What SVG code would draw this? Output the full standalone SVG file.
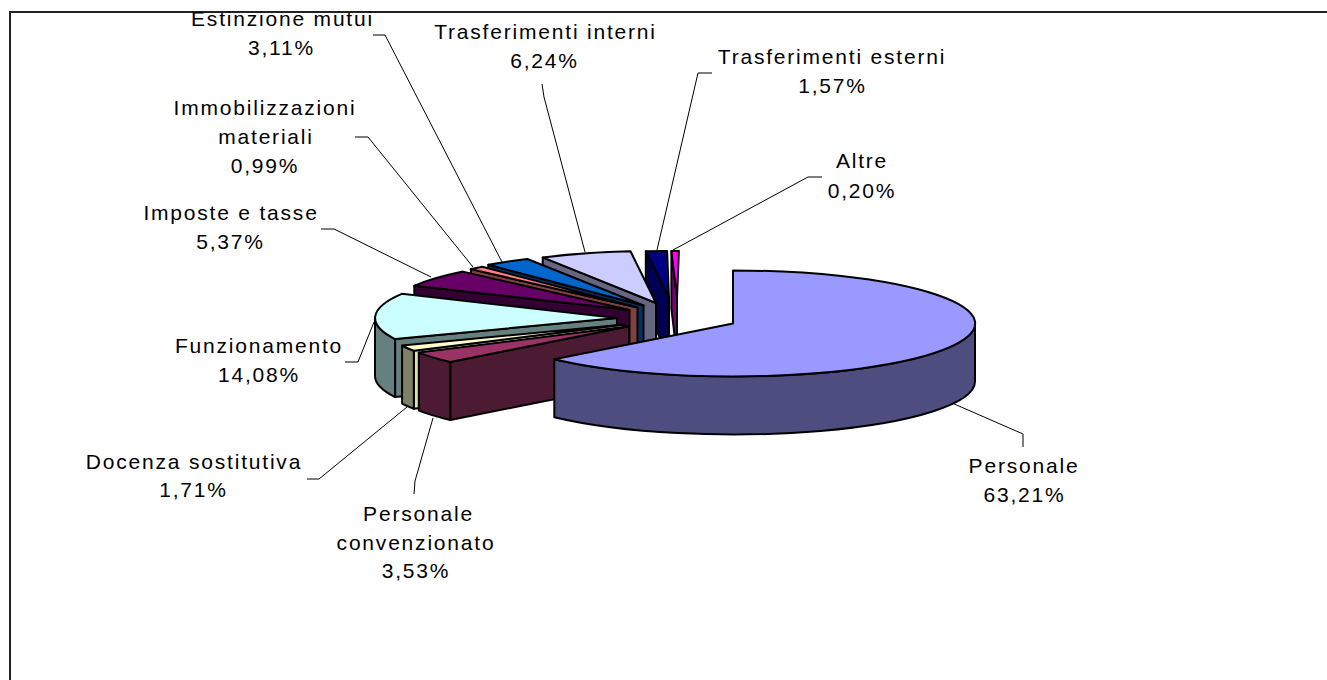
<svg xmlns="http://www.w3.org/2000/svg" width="1327" height="680" viewBox="0 0 1327 680">
<style>
.lbl{font-family:"Liberation Sans",Arial,sans-serif;font-size:21px;letter-spacing:1.8px;fill:#000;text-anchor:middle}
.f{stroke:#000;stroke-width:2;stroke-linejoin:round}
.lead{fill:none;stroke:#000;stroke-width:1}
</style>
<rect x="0" y="0" width="1327" height="680" fill="#fff"/>
<path d="M10,680 V12 H1327" fill="none" stroke="#222" stroke-width="2"/>

<g id="altre">
<path class="f" fill="#800080" d="M671.4,251 L677,298 L677,356 L671.4,309 Z"/>
<path class="f" fill="#FF00FF" d="M677,298 L671.4,251 A215,47 0 0 1 678.9,251 Z"/>
<text class="lbl" x="862" y="167.5">Altre</text>
<text class="lbl" x="862" y="198">0,20%</text>
</g>

<g id="trasferimenti-esterni">
<path class="f" fill="#000050" d="M645.8,251.3 L669,298 L669,356 L645.8,309.3 Z"/>
<path class="f" fill="#000080" d="M669,298 L645.8,251.3 A215,47 0 0 1 667.1,251 Z"/>
<text class="lbl" x="832" y="63.5">Trasferimenti esterni</text>
<text class="lbl" x="832.5" y="92.5">1,57%</text>
</g>

<g id="trasferimenti-interni">
<path class="f" fill="#666680" d="M542.7,257.4 L656,303 L656,361 L542.7,315.4 Z"/>
<path class="f" fill="#CCCCFF" d="M656,303 L542.7,257.4 A236,52 0 0 1 630.5,251.3 Z"/>
<text class="lbl" x="545.5" y="38.5">Trasferimenti interni</text>
<text class="lbl" x="544.5" y="68">6,24%</text>
</g>

<g id="estinzione-mutui">
<path class="f" fill="#003366" d="M488.3,264.8 L643.5,305.5 L643.5,363.5 L488.3,322.8 Z"/>
<path class="f" fill="#0066CC" d="M643.5,305.5 L488.3,264.8 A242,53 0 0 1 527.3,259 Z"/>
<text class="lbl" x="282.5" y="26">Estinzione mutui</text>
<text class="lbl" x="281.5" y="55">3,11%</text>
</g>

<g id="immobilizzazioni-materiali">
<path class="f" fill="#804040" d="M470.9,269.1 L637.5,307.5 L637.5,365.5 L470.9,327.1 Z"/>
<path class="f" fill="#FF8080" d="M637.5,307.5 L470.9,269.1 A242,53 0 0 1 482.3,266.8 Z"/>
<text class="lbl" x="265" y="114.5">Immobilizzazioni</text>
<text class="lbl" x="266" y="143.5">materiali</text>
<text class="lbl" x="265" y="173">0,99%</text>
</g>

<g id="imposte-e-tasse">
<path class="f" fill="#330033" d="M414.3,285.8 L629.5,310 L629.5,368 L414.3,343.8 Z"/>
<path class="f" fill="#660066" d="M629.5,310 L414.3,285.8 A242,53 0 0 1 462.9,271.6 Z"/>
<text class="lbl" x="231" y="220">Imposte e tasse</text>
<text class="lbl" x="230.5" y="249.3">5,37%</text>
</g>

<g id="funzionamento">
<path class="f" fill="#668080" d="M395.1,339.1 L617,318 L617,376 L395.1,397.1 Z"/>
<path class="f" fill="#668080" d="M395.1,339.1 A242,53 0 0 1 375,318 L375,376 A242,53 0 0 0 395.1,397.1 Z"/>
<path class="f" fill="#CCFFFF" d="M617,318 L395.1,339.1 A242,53 0 0 1 401.8,293.8 Z"/>
<text class="lbl" x="259" y="352.7">Funzionamento</text>
<text class="lbl" x="259" y="381.7">14,08%</text>
</g>

<g id="docenza-sostitutiva">
<path class="f" fill="#E0E0B0" d="M413.8,350.8 L624,324.5 L624,382.5 L413.8,408.8 Z"/>
<path class="f" fill="#808066" d="M413.8,350.8 A242,53 0 0 1 402.1,345.6 L402.1,403.6 A242,53 0 0 0 413.8,408.8 Z"/>
<path class="f" fill="#FFFFCC" d="M624,324.5 L413.8,350.8 A242,53 0 0 1 402.1,345.6 Z"/>
<text class="lbl" x="194" y="469.3">Docenza sostitutiva</text>
<text class="lbl" x="193.5" y="497.3">1,71%</text>
</g>

<g id="personale-convenzionato">
<path class="f" fill="#4D1A33" d="M450.3,362 L629,326.3 L629,384.3 L450.3,420 Z"/>
<path class="f" fill="#4D1A33" d="M450.3,362 A242,53 0 0 1 418.8,352.6 L418.8,410.6 A242,53 0 0 0 450.3,420 Z"/>
<path class="f" fill="#993366" d="M629,326.3 L450.3,362 A242,53 0 0 1 418.8,352.6 Z"/>
<text class="lbl" x="418.5" y="521">Personale</text>
<text class="lbl" x="416" y="550">convenzionato</text>
<text class="lbl" x="416" y="578.3">3,53%</text>
</g>

<g id="personale">
<path class="f" fill="#4D4D80" d="M975,323.5 A242,53 0 0 1 554.3,359.2 L554.3,417.2 A242,53 0 0 0 975,381.5 Z"/>
<path class="f" fill="#9999FF" d="M733,323.5 L733,270.5 A242,53 0 1 1 554.3,359.2 Z"/>
<text class="lbl" x="1024" y="473.3">Personale</text>
<text class="lbl" x="1024.5" y="501.7">63,21%</text>
</g>

<g id="connectors">
<polyline class="lead" points="952,403 1023,434 1023,447"/>
<polyline class="lead" points="414,494 415,481 433,418"/>
<polyline class="lead" points="307,479 319,479 407,407"/>
<polyline class="lead" points="345,362 358,362 374,322"/>
<polyline class="lead" points="321,229 334,229 431,277"/>
<polyline class="lead" points="355,137 368,137 473,267"/>
<polyline class="lead" points="373,35 385,35 502,262"/>
<polyline class="lead" points="542,84 544,97 585,252"/>
<polyline class="lead" points="657,250 698,73 712,73"/>
<polyline class="lead" points="673,250 808,177 822,177"/>
</g>
</svg>
